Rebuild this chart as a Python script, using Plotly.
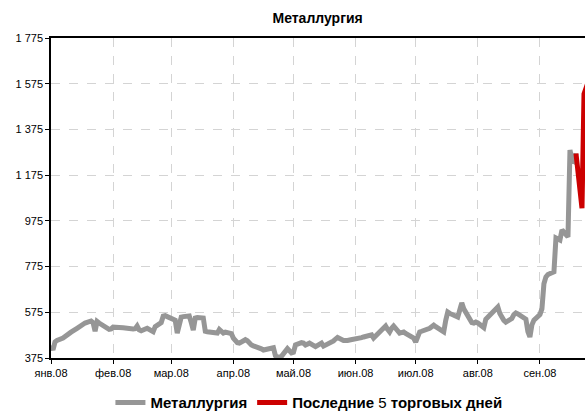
import pandas as pd
import plotly.graph_objects as go

# --- data (weekday closes) ---
jan = [430, 410, 445, 452, 462, 470, 478, 484, 488, 505, 511, 515, 522, 528,
       537, 530, 492, 535, 528, 512, 508, 500, 502]
feb = [510, 508, 505, 507, 506, 504, 502, 503, 515, 498, 494, 505, 500, 495,
       490, 512, 530, 558, 560, 556, 552]
mar = [540, 484, 530, 554, 556, 559, 530, 497, 550, 552, 550, 492, 490, 488,
       486, 484, 500, 495, 484, 488, 482]
apr = [462, 450, 442, 440, 455, 450, 438, 432, 428, 422, 415, 410, 412, 419,
       420, 385, 378, 380, 382, 416, 405, 397]
may = [400, 432, 442, 440, 432, 436, 440, 425, 430, 438, 440, 427, 438, 442,
       450, 458, 465, 452, 450, 452, 454, 455]
jun = [460, 462, 464, 467, 470, 476, 462, 470, 478, 484, 515, 500, 489, 505,
       515, 484, 486, 489, 482, 476, 462]
jul = [445, 470, 489, 492, 500, 505, 512, 519, 512, 495, 489, 540, 576, 570,
       556, 554, 585, 616, 590, 540, 530, 528, 532]
aug = [528, 508, 545, 555, 563, 575, 598, 570, 550, 540, 532, 548, 565, 572,
       568, 563, 545, 490, 467, 520, 540]
sep = [565, 590, 700, 730, 740, 752, 900, 895, 891, 935, 905, 1285, 1240,
       1235, 1270]

last5_dates = ["2008-09-19", "2008-09-22", "2008-09-23", "2008-09-24", "2008-09-25"]
last5_values = [1270, 1030, 1530, 1560, 1580]

y_ticks = [375, 575, 775, 975, 1175, 1375, 1575, 1775]
y_tick_labels = ["375", "575", "775", "975", "1 175", "1 375", "1 575", "1 775"]
x_ticks = ["2008-01-01", "2008-02-01", "2008-03-01", "2008-04-01", "2008-05-01",
           "2008-06-01", "2008-07-01", "2008-08-01", "2008-09-01"]
x_tick_labels = ["янв.08", "фев.08", "мар.08", "апр.08", "май.08",
                 "июн.08", "июл.08", "авг.08", "сен.08"]

main_values = jan + feb + mar + apr + may + jun + jul + aug + sep
main_dates = pd.bdate_range("2008-01-01", "2008-09-19")
assert len(main_dates) == len(main_values), (len(main_dates), len(main_values))

FONT = "Liberation Sans, Arial, sans-serif"

fig = go.Figure()
fig.add_trace(go.Scatter(
    x=main_dates, y=main_values, mode="lines",
    name="<b>Металлургия</b>",
    line=dict(color="#969696", width=5),
))
fig.add_trace(go.Scatter(
    x=pd.to_datetime(last5_dates), y=last5_values, mode="lines",
    name="<b>Последние </b>5<b> торговых дней</b>",
    line=dict(color="#CC0000", width=5),
))

fig.update_layout(
    width=585, height=412,
    margin=dict(l=51, r=0, t=38, b=54, autoexpand=False),
    paper_bgcolor="white", plot_bgcolor="white",
    font=dict(family=FONT, size=11, color="black"),
    title=dict(text="<b>Металлургия</b>", x=0.543, xanchor="center",
               y=0.956, yanchor="middle", font=dict(size=14, family=FONT)),
    showlegend=True,
    legend=dict(orientation="h", x=0.483, xanchor="center", y=-0.14,
                yanchor="middle", font=dict(size=15, family=FONT),
                itemwidth=30, tracegroupgap=0),
)
fig.update_xaxes(
    type="date", range=["2008-01-01", "2008-09-23 12:00"],
    tickvals=x_ticks, ticktext=x_tick_labels,
    showgrid=True, gridcolor="#d4d4d4", griddash="dash", gridwidth=1,
    showline=True, linecolor="black", linewidth=1.5, mirror=True,
    ticks="outside", ticklen=4, tickcolor="black",
    tickfont=dict(size=11), zeroline=False, automargin=False,
)
fig.update_yaxes(
    range=[375, 1775], tickvals=y_ticks, ticktext=y_tick_labels,
    showgrid=True, gridcolor="#d4d4d4", griddash="dash", gridwidth=1,
    showline=True, linecolor="black", linewidth=1.5,
    ticks="outside", ticklen=4, tickcolor="black",
    tickfont=dict(size=11), zeroline=False, automargin=False,
)

fig.write_html(
    "out.html",
    config={"displayModeBar": False},
    post_script="document.body.style.margin='0';document.body.style.overflow='hidden';",
)
